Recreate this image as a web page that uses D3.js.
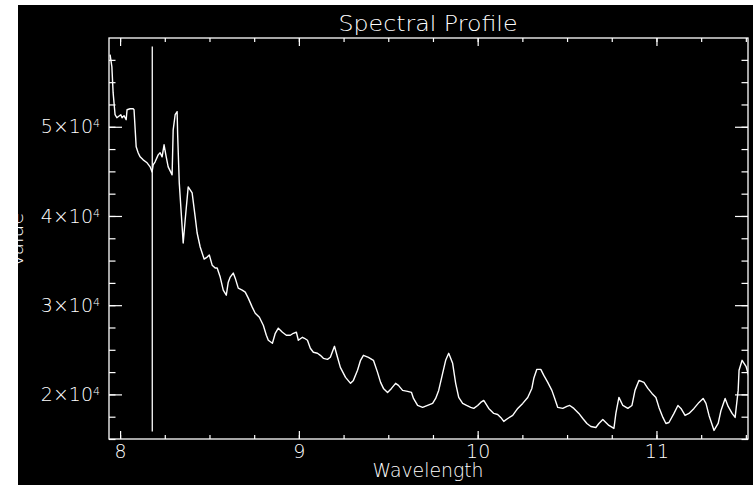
<!DOCTYPE html>
<html>
<head>
<meta charset="utf-8">
<script src="https://cdn.jsdelivr.net/npm/d3@7"></script>
<style>
  body { margin: 0; background: #fff; }
  svg text { font-family: "DejaVu Sans", sans-serif; font-weight: 200; fill: #fff; }
</style>
</head>
<body>
<div id="chart"></div>
<script>
// spectrum
const wavelength = [
  7.944, 7.954, 7.961, 7.972, 7.982, 7.989, 8.004, 8.011, 8.022, 8.034,
  8.039, 8.056, 8.073, 8.078, 8.090, 8.101, 8.112, 8.129, 8.151, 8.168,
  8.179, 8.185, 8.196, 8.213, 8.224, 8.235, 8.246, 8.258, 8.269, 8.291,
  8.297, 8.308, 8.319, 8.322, 8.331, 8.342, 8.353, 8.364, 8.381, 8.392,
  8.403, 8.420, 8.431, 8.448,
  8.470, 8.487, 8.499, 8.515, 8.532, 8.543, 8.560, 8.577, 8.594, 8.605,
  8.616, 8.633, 8.644, 8.661, 8.683, 8.700, 8.717, 8.739, 8.756, 8.779,
  8.801, 8.818, 8.829, 8.852, 8.868, 8.885, 8.908, 8.930, 8.952, 8.969,
  8.986, 8.997, 9.020, 9.031, 9.048, 9.064, 9.081, 9.104, 9.120, 9.137,
  9.160, 9.176, 9.199, 9.216, 9.232, 9.261, 9.289, 9.305, 9.328, 9.345,
  9.361, 9.389, 9.417, 9.440, 9.457, 9.473, 9.496, 9.518, 9.541, 9.557,
  9.580, 9.608, 9.630, 9.641, 9.664, 9.692, 9.720, 9.748, 9.765, 9.782,
  9.804, 9.821, 9.838, 9.860, 9.877, 9.894, 9.916, 9.938, 9.961, 9.978,
  10.000, 10.017, 10.034,
  10.062, 10.090, 10.112, 10.129, 10.146, 10.168, 10.196, 10.224, 10.252, 10.280,
  10.303, 10.314, 10.331, 10.353, 10.370, 10.392, 10.415, 10.431, 10.448, 10.476,
  10.499, 10.515, 10.538, 10.566, 10.588, 10.611, 10.633, 10.661, 10.678, 10.700,
  10.717, 10.734, 10.762, 10.773, 10.790, 10.812, 10.840, 10.863, 10.880, 10.902,
  10.930, 10.952, 10.975, 10.997, 11.014, 11.036, 11.053, 11.070, 11.098, 11.120,
  11.137, 11.160, 11.182, 11.210, 11.238, 11.261, 11.277, 11.294, 11.322, 11.345,
  11.361, 11.384, 11.401, 11.423, 11.440, 11.457, 11.462, 11.479, 11.501, 11.518
];
const flux = [
  58090, 56740, 53820, 51350, 51010, 51120, 51350, 51010, 51240, 50790,
  51910, 52020, 52020, 51910, 47750, 47080, 46630, 46290, 45960, 45510,
  44940, 45730, 46070, 46850, 47080, 46630, 47980, 46630, 45510, 44610,
  49660, 51350, 51690, 49100, 43710, 40340, 36970, 39550, 43260, 42920,
  42580, 39890, 38090, 36520,
  35170, 35390, 35620, 34490, 34160, 34160, 33150, 31690, 31120, 32580,
  33150, 33600, 33030, 31910, 31690, 31460, 30790, 29780, 29100, 28650,
  27750, 26630, 26070, 25730, 26850, 27420, 26970, 26630, 26630, 26850,
  26970, 26070, 26400, 26290, 26070, 25170, 24720, 24610, 24380, 24040,
  23930, 24160, 25390, 24160, 23030, 21910, 21240, 21570, 22700, 23820,
  24380, 24160, 23820, 22470, 21350, 20670, 20220, 20670, 21240, 21010,
  20450, 20340, 20220, 19550, 18760, 18540, 18760, 18990, 19550, 20450,
  22360, 23820, 24610, 23480, 21240, 19660, 18990, 18760, 18540, 18430,
  18760, 19100, 19330,
  18430, 17870, 17750, 17420, 16970, 17300, 17640, 18430, 18990, 19660,
  20670, 21800, 22810, 22810, 22130, 21350, 20450, 19550, 18540, 18430,
  18650, 18760, 18430, 17870, 17300, 16740, 16400, 16290, 16740, 17190,
  16850, 16520, 16180, 17870, 19660, 18760, 18430, 18760, 20450, 21570,
  21350, 20670, 20110, 19660, 18540, 17420, 16740, 16850, 17870, 18760,
  18430, 17640, 17870, 18430, 19100, 19550, 18990, 17640, 15960, 16740,
  18200, 19550, 18650, 17870, 17420, 20450, 22700, 23820, 23150, 21910
];

// the vertical marker line
const markerWave = 8.18;
const markerFlux = [15840, 59000];

const xMajor = [8, 9, 10, 11];
const xMinor = d3.range(8, 11.6, 0.25);
const yMajor = [20000, 30000, 40000, 50000];
const yMinor = d3.range(15000, 60000, 2500);

const width = 753, height = 485;
const margin = { top: 38, right: 5, bottom: 46, left: 109 };

const svg = d3.select('#chart')
  .append('svg')
  .attr('width', width)
  .attr('height', height);

// black drawing area (the picture has a white strip left and top)
svg.append('rect')
  .attr('x', 18).attr('y', 5)
  .attr('width', width - 18).attr('height', height - 5)
  .attr('fill', '#000');

const x = d3.scaleLinear()
  .domain([7.938, 11.512])
  .range([margin.left, width - margin.right]);

const y = d3.scaleLinear()
  .domain([15000, 59950])
  .range([height - margin.bottom, margin.top]);

svg.append('clipPath').attr('id', 'plot')
  .append('rect')
  .attr('x', margin.left).attr('y', margin.top)
  .attr('width', width - margin.right - margin.left)
  .attr('height', height - margin.bottom - margin.top);

function styleAxis(g) {
  g.select('.domain').remove();
  g.selectAll('line').attr('stroke', '#fff').attr('stroke-width', 1.2);
  g.attr('font-family', null).attr('font-size', null);
}

const xTick = 8, yTick = 13;

// bottom
svg.append('g').attr('transform', `translate(0,${height - margin.bottom})`)
  .call(d3.axisBottom(x).tickValues(xMinor).tickSize(-xTick / 2).tickFormat(''))
  .call(styleAxis);
svg.append('g').attr('transform', `translate(0,${height - margin.bottom})`)
  .call(d3.axisBottom(x).tickValues(xMajor).tickSize(-xTick).tickPadding(5).tickFormat(d3.format('d')))
  .call(styleAxis)
  .selectAll('text').style('font-size', '19px').attr('dy', '0.76em');

// top
svg.append('g').attr('transform', `translate(0,${margin.top})`)
  .call(d3.axisTop(x).tickValues(xMinor).tickSize(-xTick / 2).tickFormat(''))
  .call(styleAxis);
svg.append('g').attr('transform', `translate(0,${margin.top})`)
  .call(d3.axisTop(x).tickValues(xMajor).tickSize(-xTick).tickFormat(''))
  .call(styleAxis);

// left
svg.append('g').attr('transform', `translate(${margin.left},0)`)
  .call(d3.axisLeft(y).tickValues(yMinor).tickSize(-yTick / 2).tickFormat(''))
  .call(styleAxis);
const yAxis = svg.append('g').attr('transform', `translate(${margin.left},0)`)
  .call(d3.axisLeft(y).tickValues(yMajor).tickSize(-yTick).tickPadding(9).tickFormat(''))
  .call(styleAxis);
yAxis.selectAll('.tick text').each(function(d) {
  const t = d3.select(this).style('font-size', '19px');
  t.append('tspan').text((d / 10000) + '\u00d710');
  t.append('tspan').text('4').attr('dy', '-0.55em').style('font-size', '11px');
});

// right
svg.append('g').attr('transform', `translate(${width - margin.right},0)`)
  .call(d3.axisRight(y).tickValues(yMinor).tickSize(-yTick / 2).tickFormat(''))
  .call(styleAxis);
svg.append('g').attr('transform', `translate(${width - margin.right},0)`)
  .call(d3.axisRight(y).tickValues(yMajor).tickSize(-yTick).tickFormat(''))
  .call(styleAxis);

// frame
svg.append('rect')
  .attr('x', margin.left).attr('y', margin.top)
  .attr('width', width - margin.right - margin.left)
  .attr('height', height - margin.bottom - margin.top)
  .attr('fill', 'none')
  .attr('stroke', '#fff')
  .attr('stroke-width', 1.3);

// marker line
svg.append('line')
  .attr('x1', x(markerWave)).attr('x2', x(markerWave))
  .attr('y1', y(markerFlux[0])).attr('y2', y(markerFlux[1]))
  .attr('stroke', '#fff')
  .attr('stroke-width', 1.3);

// spectrum
const line = d3.line()
  .x((d, i) => x(wavelength[i]))
  .y(d => y(d));

svg.append('path')
  .datum(flux)
  .attr('clip-path', 'url(#plot)')
  .attr('d', line)
  .attr('fill', 'none')
  .attr('stroke', '#fff')
  .attr('stroke-width', 1.4)
  .attr('stroke-linejoin', 'round');

// titles
svg.append('text')
  .attr('x', 428).attr('y', 31)
  .attr('text-anchor', 'middle')
  .attr('textLength', 179).attr('lengthAdjust', 'spacingAndGlyphs')
  .style('font-size', '21px')
  .text('Spectral Profile');

svg.append('text')
  .attr('x', 428).attr('y', 477)
  .attr('text-anchor', 'middle')
  .attr('textLength', 111).attr('lengthAdjust', 'spacingAndGlyphs')
  .style('font-size', '20px')
  .text('Wavelength');

svg.append('text')
  .attr('transform', 'translate(23,240) rotate(-90)')
  .attr('text-anchor', 'middle')
  .style('font-size', '20px')
  .text('Value');
</script>
</body>
</html>
